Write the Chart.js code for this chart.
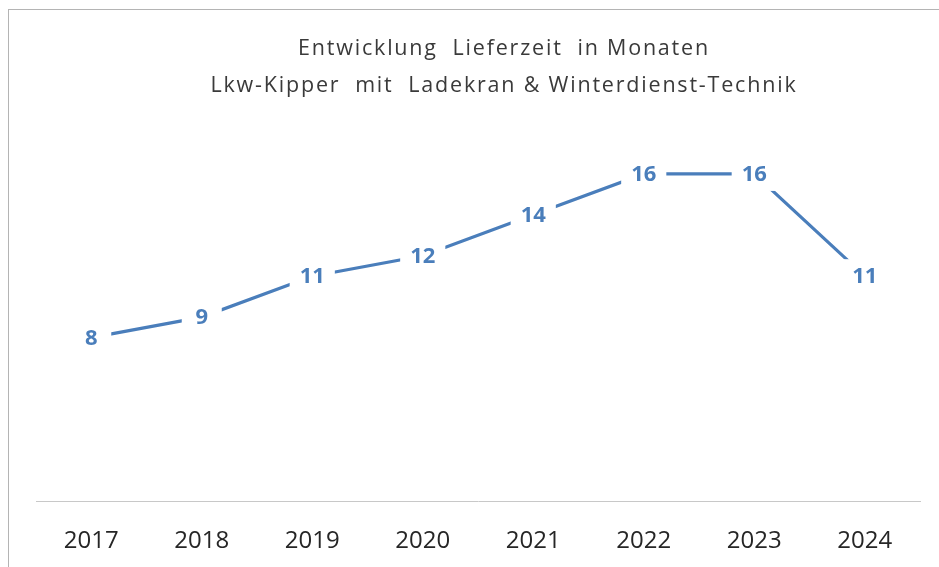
<!DOCTYPE html>
<html>
<head>
<meta charset="utf-8">
<script src="https://cdn.jsdelivr.net/npm/chart.js@4"></script>
<style>
  html, body { margin: 0; padding: 0; background: #fff; overflow: hidden; }
  #frame {
    position: absolute; left: 8px; top: 9px;
    width: 990px; height: 600px;
    border-left: 1px solid #b4b4b4; border-top: 1px solid #b4b4b4;
  }
</style>
</head>
<body>
<div id="frame"><canvas id="chart" width="990" height="600"></canvas></div>
<script>
// DATA
const YEARS = ['2017', '2018', '2019', '2020', '2021', '2022', '2023', '2024'];
const MONTHS = [8, 9, 11, 12, 14, 16, 16, 11];
const TITLE_LINES = ['Entwicklung  Lieferzeit  in Monaten', 'Lkw-Kipper  mit  Ladekran & Winterdienst-Technik'];

const LINE_COLOR = '#4a7ebb';

// title drawn by hand so the letter spacing can be widened
const wideTitle = {
    id: 'wideTitle',
    afterDraw(chart) {
        const ctx = chart.ctx;
        ctx.save();
        ctx.font = '21.5px "Open Sans"';
        ctx.letterSpacing = '1.8px';
        ctx.fillStyle = '#3a3a3a';
        ctx.textAlign = 'center';
        ctx.textBaseline = 'middle';
        TITLE_LINES.forEach((line, i) => {
            ctx.fillText(line, chart.width / 2, 39 + i * 37);
        });
        ctx.restore();
    }
};

// labels sit on the line with a white box, like the Excel "center" labels
const boxLabels = {
    id: 'boxLabels',
    afterDatasetsDraw(chart) {
        const ctx = chart.ctx;
        const meta = chart.getDatasetMeta(0);
        ctx.save();
        ctx.font = 'bold 22px "Open Sans"';
        ctx.textAlign = 'center';
        ctx.textBaseline = 'middle';
        meta.data.forEach((pt, i) => {
            const txt = String(MONTHS[i]);
            const w = Math.max(ctx.measureText(txt).width + 20, 40);
            const h = 34;
            ctx.fillStyle = '#fff';
            ctx.fillRect(pt.x - w / 2, pt.y - h / 2, w, h);
            ctx.fillStyle = LINE_COLOR;
            ctx.fillText(txt, pt.x, pt.y + 1);
        });
        ctx.restore();
    }
};

new Chart(document.getElementById('chart'), {
    type: 'line',
    data: {
        labels: YEARS,
        datasets: [{
            data: MONTHS,
            borderColor: LINE_COLOR,
            borderWidth: 3.2,
            pointRadius: 0,
            tension: 0
        }]
    },
    options: {
        responsive: false,
        animation: false,
        layout: { padding: { left: 27, right: 79, top: 123, bottom: 28 } },
        plugins: {
            legend: { display: false },
            tooltip: { enabled: false },
            title: { display: false }
        },
        scales: {
            x: {
                offset: true,
                grid: { display: false, drawTicks: false },
                border: { display: true, color: '#c8c8c8', width: 1, dash: [2, 1] },
                ticks: {
                    color: '#262626',
                    padding: 26,
                    font: { family: 'Open Sans', size: 24 }
                }
            },
            y: { display: false, min: 0, max: 18 }
        }
    },
    plugins: [boxLabels, wideTitle]
});
</script>
</body>
</html>
